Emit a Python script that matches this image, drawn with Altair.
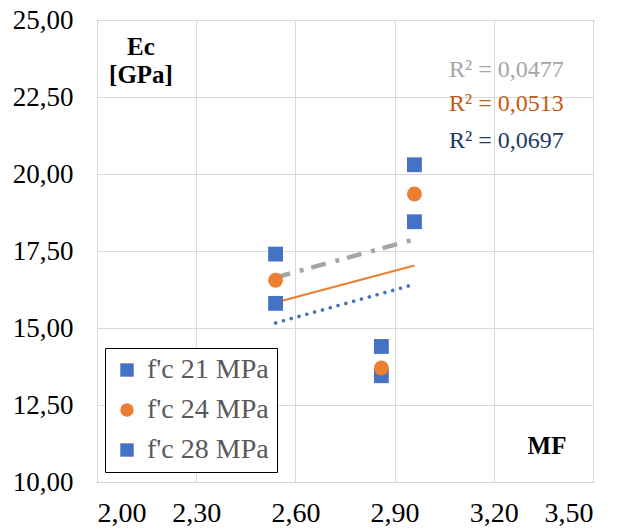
import altair as alt
import pandas as pd

mf = [2.54, 2.86, 2.96]
ec_21 = [15.80, 13.45, 18.45]
ec_24 = [16.55, 13.70, 19.35]
ec_28 = [17.40, 14.40, 20.30]
series_names = ["f'c 21 MPa", "f'c 24 MPa", "f'c 28 MPa"]
r2_labels = ["R² = 0,0477", "R² = 0,0513", "R² = 0,0697"]
x_ticks = [2.0, 2.3, 2.6, 2.9, 3.2, 3.5]
y_ticks = [10.0, 12.5, 15.0, 17.5, 20.0, 22.5, 25.0]

rows = []
for name, vals in zip(series_names, [ec_21, ec_24, ec_28]):
    for x, y in zip(mf, vals):
        rows.append({"MF": x, "Ec": y, "serie": name})
df = pd.DataFrame(rows)

FONT = "Liberation Serif"
BLUE = "#4472C4"
ORANGE = "#ED7D31"

xs = alt.Scale(domain=[2.0, 3.5], nice=False, zero=False)
ys = alt.Scale(domain=[10, 25], nice=False, zero=False)
lab = "replace(format(datum.value, '.2f'), '.', ',')"

x_enc = alt.X("MF:Q", scale=xs, axis=alt.Axis(values=x_ticks, title=None, labelExpr=lab,
                                               labelPadding=17, labelFont=FONT,
                                               labelFontSize=28))
y_enc = alt.Y("Ec:Q", scale=ys, axis=alt.Axis(values=y_ticks, title=None, labelExpr=lab,
                                               labelPadding=24, labelFont=FONT,
                                               labelFontSize=27))

base = alt.Chart(df)

points = base.mark_point(filled=True, opacity=1, strokeWidth=0).encode(
    x=x_enc,
    y=y_enc,
    color=alt.Color("serie:N", scale=alt.Scale(domain=series_names, range=[BLUE, ORANGE, BLUE]),
                    legend=alt.Legend(title=None, orient="none", legendX=8, legendY=328,
                                      labelFont=FONT, labelFontSize=28, labelColor="#595959",
                                      symbolSize=180, strokeColor="#000000", fillColor="#ffffff",
                                      padding=8, rowPadding=12, symbolStrokeWidth=0,
                                      labelOffset=6, cornerRadius=0)),
    shape=alt.Shape("serie:N", scale=alt.Scale(domain=series_names,
                                               range=["square", "circle", "square"]),
                    legend=None),
    size=alt.value(220),
)

def trend(name, color, width, dash, cap):
    props = dict(color=color, strokeWidth=width, strokeCap=cap)
    if dash:
        props["strokeDash"] = dash
    return base.transform_filter(alt.datum.serie == name).transform_regression(
        "MF", "Ec").mark_line(**props).encode(x=x_enc, y=y_enc)

t28 = trend("f'c 28 MPa", "#A5A5A5", 4.5, [15, 10, 4, 8], "butt")
t24 = trend("f'c 24 MPa", ORANGE, 2, None, "butt")
t21 = trend("f'c 21 MPa", BLUE, 3.6, [0.1, 8], "round")

r2_df = pd.DataFrame({"t": r2_labels, "c": ["#A5A5A5", "#C55A11", "#203864"],
                      "yy": [50, 84, 121]})
r2 = alt.Chart(r2_df).mark_text(font=FONT, fontSize=24, align="left", baseline="middle").encode(
    x=alt.value(352), y=alt.Y("yy:Q", scale=None), text="t:N",
    color=alt.Color("c:N", scale=None))

titles_df = pd.DataFrame({"t": ["Ec", "[GPa]", "MF"], "xx": [44, 44, 450], "yy": [27, 55, 426]})
titles = alt.Chart(titles_df).mark_text(font=FONT, fontSize=25, fontWeight="bold",
                                        align="center", baseline="middle").encode(
    x=alt.X("xx:Q", scale=None), y=alt.Y("yy:Q", scale=None), text="t:N")

chart = alt.layer(t28, t24, t21, points, r2, titles).properties(
    width=496, height=462,
    autosize=alt.AutoSizeParams(type="none"),
    padding={"left": 89, "top": 12, "right": 30, "bottom": 52},
).configure_view(stroke="#000000", strokeWidth=1).configure_axis(
    grid=True, gridColor="#d9d9d9", gridWidth=1, ticks=False, domain=False,
    labelFont=FONT, labelColor="#000000",
)

chart.save("out.html", embed_options={"renderer": "svg", "actions": False})
